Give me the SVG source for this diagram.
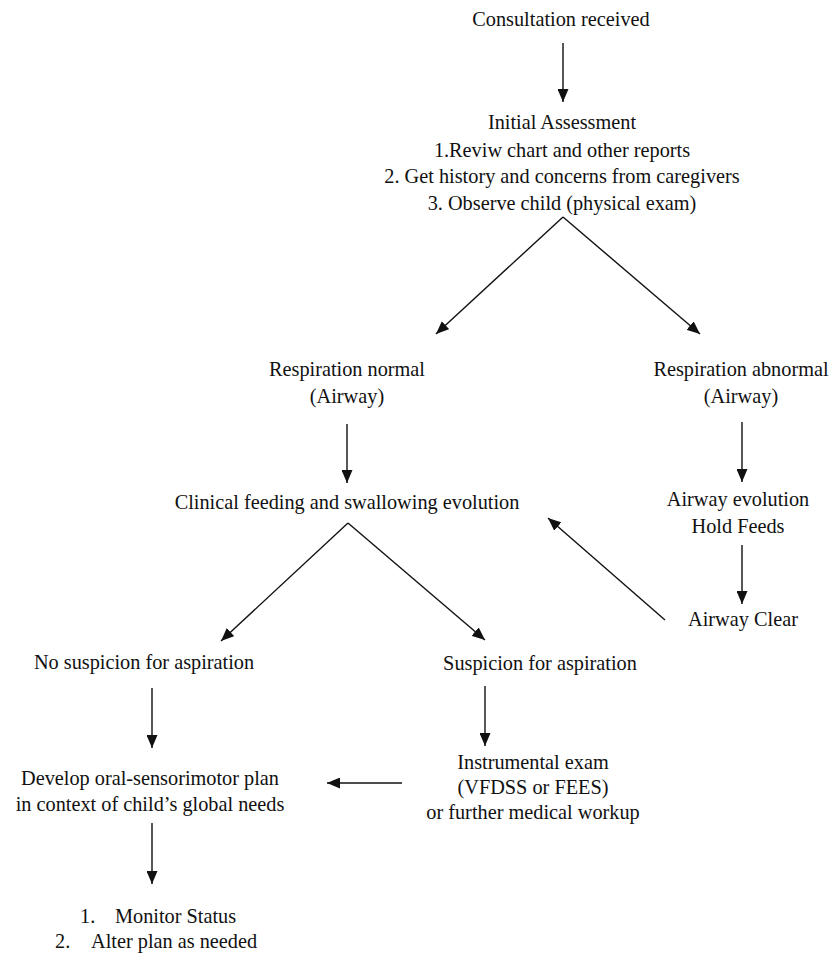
<svg xmlns="http://www.w3.org/2000/svg" width="831" height="955" viewBox="0 0 831 955">
<style>
  text { font-family: "Liberation Serif", "Times New Roman", serif; font-size: 20.3px; fill: #111; text-anchor: middle; }
  .c line { stroke: #111; stroke-width: 1.4; }
</style>
<defs>
  <marker id="ah" markerUnits="userSpaceOnUse" markerWidth="13" markerHeight="11" refX="13" refY="5.5" orient="auto">
    <path d="M0,0 L13,5.5 L0,11 z" fill="#111"/>
  </marker>
</defs>
<rect width="831" height="955" fill="#fff"/>
<g class="c" id="connectors">
  <line x1="563" y1="43" x2="563" y2="102" marker-end="url(#ah)"/>
  <line x1="563" y1="217" x2="436" y2="334" marker-end="url(#ah)"/>
  <line x1="563" y1="217" x2="700" y2="334" marker-end="url(#ah)"/>
  <line x1="347" y1="424" x2="347" y2="483" marker-end="url(#ah)"/>
  <line x1="742" y1="422" x2="742" y2="482" marker-end="url(#ah)"/>
  <line x1="742" y1="545" x2="742" y2="604" marker-end="url(#ah)"/>
  <line x1="665" y1="620" x2="548" y2="518" marker-end="url(#ah)"/>
  <line x1="348" y1="523" x2="221" y2="641" marker-end="url(#ah)"/>
  <line x1="348" y1="523" x2="485" y2="640" marker-end="url(#ah)"/>
  <line x1="152" y1="688" x2="152" y2="748" marker-end="url(#ah)"/>
  <line x1="485" y1="686" x2="485" y2="746" marker-end="url(#ah)"/>
  <line x1="402" y1="783" x2="327" y2="783" marker-end="url(#ah)"/>
  <line x1="152" y1="823" x2="152" y2="884" marker-end="url(#ah)"/>
</g>
<g id="consultation"><text x="561" y="26">Consultation received</text></g>
<g id="initial">
  <text x="562" y="129">Initial Assessment</text>
  <text x="562" y="157">1.Reviw chart and other reports</text>
  <text x="562" y="183">2. Get history and concerns from caregivers</text>
  <text x="562" y="210">3. Observe child (physical exam)</text>
</g>
<g id="resp-normal">
  <text x="347" y="376">Respiration normal</text>
  <text x="347" y="403">(Airway)</text>
</g>
<g id="resp-abnormal">
  <text x="741" y="376">Respiration abnormal</text>
  <text x="741" y="403">(Airway)</text>
</g>
<g id="clinical"><text x="347" y="509">Clinical feeding and swallowing evolution</text></g>
<g id="airway-eval">
  <text x="738" y="506">Airway evolution</text>
  <text x="738" y="533">Hold Feeds</text>
</g>
<g id="airway-clear"><text x="743" y="626">Airway Clear</text></g>
<g id="no-suspicion"><text x="144" y="669">No suspicion for aspiration</text></g>
<g id="suspicion"><text x="540" y="670">Suspicion for aspiration</text></g>
<g id="develop">
  <text x="150" y="785">Develop oral-sensorimotor plan</text>
  <text x="150" y="811">in context of child’s global needs</text>
</g>
<g id="instrumental">
  <text x="533" y="769">Instrumental exam</text>
  <text x="533" y="794">(VFDSS  or FEES)</text>
  <text x="533" y="819">or further medical  workup</text>
</g>
<g id="monitor">
  <text x="80" y="923" style="text-anchor:start">1.</text>
  <text x="115" y="923" style="text-anchor:start">Monitor Status</text>
  <text x="55" y="948" style="text-anchor:start">2.</text>
  <text x="91" y="948" style="text-anchor:start">Alter plan as needed</text>
</g>
</svg>
